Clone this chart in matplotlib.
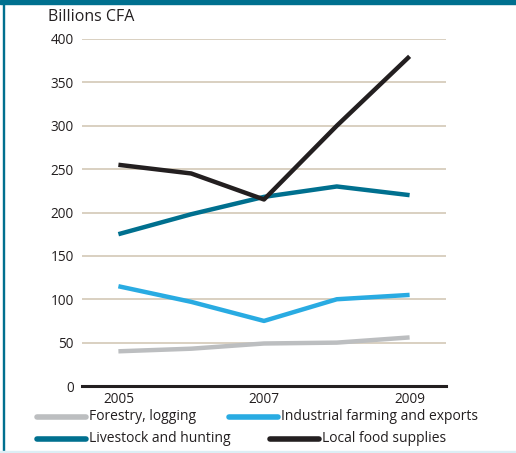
import matplotlib.pyplot as plt
from matplotlib.lines import Line2D
from matplotlib.patches import Rectangle

plt.rcParams['font.family'] = ['Open Sans', 'DejaVu Sans']

years = [2005, 2006, 2007, 2008, 2009]
forestry = [40, 43, 49, 50, 56]
industrial = [115, 97, 75, 100, 105]
livestock = [175, 198, 218, 230, 220]
local_food = [255, 245, 215, 300, 380]

names = ['Forestry, logging', 'Industrial farming and exports',
         'Livestock and hunting', 'Local food supplies']
colors = ['#bcbec0', '#29abe2', '#00708f', '#231f20']
series = [forestry, industrial, livestock, local_food]

W, H = 516, 453
fig = plt.figure(figsize=(W / 100, H / 100), dpi=100)
ax = fig.add_axes([82 / W, 1 - 386 / H, (446 - 82) / W, (386 - 39) / H])

for vals, c in zip(series, colors):
    ax.plot(years, vals, color=c, lw=3.2, solid_capstyle='butt', zorder=3)

ax.set_xlim(2004.5, 2009.5)
ax.set_ylim(0, 400)
ax.set_yticks(range(0, 401, 50))
ax.set_xticks([2005, 2007, 2009])
ax.yaxis.grid(True, color='#cfc4b0', lw=1.1)
ax.set_axisbelow(True)
for s in ax.spines.values():
    s.set_visible(False)
ax.axhline(0, color='#231f20', lw=2.2, zorder=4, clip_on=False)
ax.tick_params(length=0, labelsize=9.8, colors='#231f20')
ax.tick_params(axis='y', pad=6)
ax.tick_params(axis='x', pad=4)

fig.text(48 / W, 1 - 17 / H, 'Billions CFA', fontsize=11.5, color='#231f20',
         va='center', ha='left')

# legend drawn by hand to follow the staggered layout
leg_pos = [(37, 417), (229, 417), (37, 439), (270, 439)]
for (x, y), name, c in zip(leg_pos, names, colors):
    fig.add_artist(Line2D([x / W, (x + 49) / W], [1 - y / H, 1 - y / H],
                          color=c, lw=4, solid_capstyle='round',
                          transform=fig.transFigure))
    fig.text((x + 52) / W, 1 - y / H, name, fontsize=10, color='#231f20',
             va='center', ha='left')

# frame: teal bar on top, thin teal line left, light line at bottom
fig.add_artist(Rectangle((0, 1 - 4 / H), 1, 4 / H, color='#00708f',
                         transform=fig.transFigure))
fig.add_artist(Rectangle((3 / W, 0), 1.2 / W, 1, color='#00708f',
                         transform=fig.transFigure))
fig.add_artist(Rectangle((0, 0), 1, 2 / H, color='#dceef5',
                         transform=fig.transFigure))

fig.savefig('out.png', dpi=100)
